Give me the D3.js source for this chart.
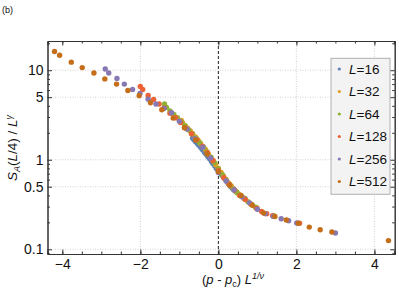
<!DOCTYPE html>
<html>
<head>
<meta charset="utf-8">
<script src="https://cdn.jsdelivr.net/npm/d3@7"></script>
<style>
  body { margin: 0; background: #fff; }
  svg { display: block; font-family: "Liberation Sans", Arial, sans-serif; }
</style>
</head>
<body>
<svg id="main-svg"></svg>
<script>
// DATA
const SERIES_NAMES = ["16", "32", "64", "128", "256", "512"]
const SERIES_COLORS = ["#5E81B5", "#E19C24", "#8FB032", "#EB6235", "#8778B3", "#C56E1A"]

const X_L16 = [-0.66, -0.63, -0.59, -0.54, -0.50, -0.45, -0.41, -0.36, -0.32, -0.27, -0.23, -0.18, -0.14, -0.09, -0.05, 0, 0.05, 0.09, 0.14, 0.18, 0.23, 0.27, 0.32, 0.36, 0.41, 0.45, 0.68]
const Y_L16 = [1.75, 1.68, 1.60, 1.52, 1.45, 1.37, 1.30, 1.22, 1.16, 1.09, 1.03, 0.96, 0.91, 0.85, 0.80, 0.75, 0.71, 0.67, 0.63, 0.60, 0.56, 0.53, 0.50, 0.48, 0.46, 0.44, 0.37]

const X_L32 = [-0.95, -0.92, -0.85, -0.79, -0.72, -0.66, -0.59, -0.52, -0.46, -0.39, -0.33, -0.26, -0.20, -0.13, -0.07, 0, 0.07, 0.13, 0.20, 0.26, 0.33, 0.39, 0.46, 0.53, 0.59, 0.66, 0.99]
const Y_L32 = [2.75, 2.60, 2.40, 2.25, 2.10, 1.95, 1.80, 1.65, 1.53, 1.40, 1.30, 1.17, 1.07, 0.97, 0.88, 0.80, 0.72, 0.66, 0.60, 0.55, 0.51, 0.47, 0.44, 0.41, 0.39, 0.37, 0.29]

const X_L64 = [-1.38, -1.33, -1.24, -1.14, -1.05, -0.95, -0.86, -0.76, -0.67, -0.57, -0.48, -0.38, -0.29, -0.19, -0.10, 0, 0.10, 0.19, 0.29, 0.38, 0.48, 0.57, 0.67, 0.76, 0.86, 0.95, 1.43]
const Y_L64 = [4.20, 3.85, 3.50, 3.20, 2.95, 2.65, 2.40, 2.15, 1.95, 1.74, 1.55, 1.38, 1.22, 1.07, 0.93, 0.79, 0.68, 0.60, 0.53, 0.47, 0.43, 0.40, 0.37, 0.34, 0.315, 0.295, 0.235]

const X_L128 = [-2.00, -1.94, -1.80, -1.66, -1.52, -1.39, -1.24, -1.10, -0.97, -0.83, -0.69, -0.55, -0.41, -0.28, -0.14, 0, 0.14, 0.28, 0.41, 0.55, 0.69, 0.83, 0.98, 1.11, 1.24, 1.39, 2.08]
const Y_L128 = [6.60, 6.10, 5.23, 4.72, 4.20, 3.80, 3.30, 2.95, 2.60, 2.25, 1.95, 1.68, 1.42, 1.20, 0.98, 0.76, 0.63, 0.53, 0.46, 0.40, 0.36, 0.32, 0.285, 0.265, 0.25, 0.237, 0.195]

const X_L256 = [-2.90, -2.81, -2.60, -2.41, -2.20, -2.01, -1.80, -1.60, -1.39, -1.20, -1.00, -0.80, -0.60, -0.40, -0.20, 0, 0.20, 0.40, 0.60, 0.80, 1.00, 1.20, 1.41, 1.61, 1.80, 2.01, 3.00]
const Y_L256 = [10.3, 9.3, 8.1, 7.0, 6.1, 5.5, 4.75, 4.2, 3.75, 3.35, 2.7, 2.2, 1.72, 1.38, 1.05, 0.72, 0.58, 0.46, 0.385, 0.33, 0.28, 0.25, 0.233, 0.219, 0.208, 0.197, 0.152]

const X_L512 = [-4.20, -4.07, -3.77, -3.49, -3.19, -2.91, -2.61, -2.32, -2.03, -1.74, -1.45, -1.16, -0.87, -0.58, -0.29, 0, 0.29, 0.58, 0.87, 1.16, 1.45, 1.74, 2.05, 2.33, 2.61, 2.91, 4.36]
const Y_L512 = [16.2, 14.7, 12.3, 10.7, 9.3, 8.0, 7.0, 5.94, 5.2, 4.33, 3.62, 2.92, 2.28, 1.66, 1.16, 0.74, 0.52, 0.40, 0.31, 0.255, 0.232, 0.212, 0.196, 0.177, 0.165, 0.156, 0.125]

const X_TICKS = [-4, -2, 0, 2, 4]
const X_MINOR_TICKS = [-4, -3.5, -3, -2.5, -2, -1.5, -1, -0.5, 0, 0.5, 1, 1.5, 2, 2.5, 3, 3.5, 4, 4.5]
const Y_TICKS = [0.1, 0.5, 1, 5, 10]
const Y_MINOR_TICKS = [0.09, 0.2, 0.3, 0.4, 0.6, 0.7, 0.8, 0.9, 2, 3, 4, 6, 7, 8, 9, 20]
const X_GRID = [-2, 2, 4]
const Y_GRID = [0.1, 0.5, 1, 5, 10]

// FIXED SPACING VARIABLES
const CANVAS_WIDTH = 399
const CANVAS_HEIGHT = 299
const FRAME_LEFT = 47.5
const FRAME_RIGHT = 394.7
const FRAME_TOP = 41
const FRAME_BOTTOM = 254
const X_DOMAIN = [-4.38, 4.52]
const Y_DOMAIN = [0.0886, 21.2]
const MAJOR_TICK = 4.5
const MINOR_TICK = 2.5
const DOT_RADIUS = 2.7
const TICK_FONT = 14
const LEGEND_X = 331
const LEGEND_Y = 58.3
const LEGEND_WIDTH = 59
const LEGEND_HEIGHT = 136
const LEGEND_FIRST_ROW = 69
const LEGEND_ROW_STEP = 22.5

// STYLE VARIABLES
const FRAME_COLOR = "#333"
const GRID_COLOR = "#c8c8c8"
const TEXT_COLOR = "#111"
const LEGEND_FILL = "#f3f3f3"
const LEGEND_STROKE = "#b0b0b0"

const seriesX = [X_L16, X_L32, X_L64, X_L128, X_L256, X_L512]
const seriesY = [Y_L16, Y_L32, Y_L64, Y_L128, Y_L256, Y_L512]
const seriesData = SERIES_NAMES.map((name, i) => ({
  name: name,
  color: SERIES_COLORS[i],
  points: seriesX[i].map((x, j) => ({ x: x, y: seriesY[i][j] }))
}))

const x = d3.scaleLinear().domain(X_DOMAIN).range([FRAME_LEFT, FRAME_RIGHT])
const y = d3.scaleLog().domain(Y_DOMAIN).range([FRAME_BOTTOM, FRAME_TOP])

const svg = d3.select("#main-svg")
  .attr("width", CANVAS_WIDTH)
  .attr("height", CANVAS_HEIGHT)

svg.append("rect")
  .attr("width", "100%")
  .attr("height", "100%")
  .attr("fill", "#fff")

// panel tag
svg.append("text")
  .attr("x", 2)
  .attr("y", 13)
  .attr("font-size", 9)
  .attr("fill", TEXT_COLOR)
  .text("(b)")

// grid lines
const grid = svg.append("g")
grid.selectAll(".vgrid")
  .data(X_GRID)
  .join("line")
  .attr("x1", d => x(d)).attr("x2", d => x(d))
  .attr("y1", FRAME_TOP).attr("y2", FRAME_BOTTOM)
  .attr("stroke", GRID_COLOR)
  .attr("stroke-width", 0.8)
  .attr("stroke-dasharray", "1,1.5")
grid.selectAll(".hgrid")
  .data(Y_GRID)
  .join("line")
  .attr("x1", FRAME_LEFT).attr("x2", FRAME_RIGHT)
  .attr("y1", d => y(d)).attr("y2", d => y(d))
  .attr("stroke", GRID_COLOR)
  .attr("stroke-width", 0.8)
  .attr("stroke-dasharray", "1,1.5")

// dashed line at p = pc
svg.append("line")
  .attr("x1", x(0)).attr("x2", x(0))
  .attr("y1", FRAME_TOP).attr("y2", FRAME_BOTTOM)
  .attr("stroke", "#222")
  .attr("stroke-width", 1)
  .attr("stroke-dasharray", "3,2")

// points, later series drawn on top
const plot = svg.append("g")
seriesData.forEach(s => {
  plot.append("g")
    .selectAll("circle")
    .data(s.points)
    .join("circle")
    .attr("cx", d => x(d.x))
    .attr("cy", d => y(d.y))
    .attr("r", DOT_RADIUS)
    .attr("fill", s.color)
})

// frame axes with inward ticks on all sides
function styleAxis(g) {
  g.select(".domain").attr("stroke", FRAME_COLOR)
  g.selectAll(".tick line").attr("stroke", FRAME_COLOR)
  g.selectAll(".tick text").attr("fill", TEXT_COLOR).attr("font-size", TICK_FONT)
}
const fmtY = d => d3.format("~g")(d)
const fmtX = d => d3.format("~g")(d).replace("-", "\u2212")

svg.append("g")
  .attr("transform", `translate(0,${FRAME_BOTTOM})`)
  .call(d3.axisBottom(x).tickValues(X_MINOR_TICKS).tickSize(-MINOR_TICK).tickFormat(""))
  .call(styleAxis)
svg.append("g")
  .attr("transform", `translate(0,${FRAME_BOTTOM})`)
  .call(d3.axisBottom(x).tickValues(X_TICKS).tickSize(-MAJOR_TICK).tickPadding(5).tickFormat(fmtX))
  .call(styleAxis)
svg.append("g")
  .attr("transform", `translate(0,${FRAME_TOP})`)
  .call(d3.axisTop(x).tickValues(X_MINOR_TICKS).tickSize(-MINOR_TICK).tickFormat(""))
  .call(styleAxis)
svg.append("g")
  .attr("transform", `translate(0,${FRAME_TOP})`)
  .call(d3.axisTop(x).tickValues(X_TICKS).tickSize(-MAJOR_TICK).tickFormat(""))
  .call(styleAxis)

svg.append("g")
  .attr("transform", `translate(${FRAME_LEFT},0)`)
  .call(d3.axisLeft(y).tickValues(Y_MINOR_TICKS).tickSize(-MINOR_TICK).tickFormat(""))
  .call(styleAxis)
svg.append("g")
  .attr("transform", `translate(${FRAME_LEFT},0)`)
  .call(d3.axisLeft(y).tickValues(Y_TICKS).tickSize(-MAJOR_TICK).tickPadding(4).tickFormat(fmtY))
  .call(styleAxis)
svg.append("g")
  .attr("transform", `translate(${FRAME_RIGHT},0)`)
  .call(d3.axisRight(y).tickValues(Y_MINOR_TICKS).tickSize(-MINOR_TICK).tickFormat(""))
  .call(styleAxis)
svg.append("g")
  .attr("transform", `translate(${FRAME_RIGHT},0)`)
  .call(d3.axisRight(y).tickValues(Y_TICKS).tickSize(-MAJOR_TICK).tickFormat(""))
  .call(styleAxis)

// axis labels
const xLabel = svg.append("text")
  .attr("x", 233)
  .attr("y", 284)
  .attr("text-anchor", "middle")
  .attr("font-size", 13)
  .attr("fill", TEXT_COLOR)
xLabel.append("tspan").text("(")
xLabel.append("tspan").attr("font-style", "italic").text("p")
xLabel.append("tspan").text(" - ")
xLabel.append("tspan").attr("font-style", "italic").text("p")
xLabel.append("tspan").attr("font-size", 9).attr("dy", 3).text("c")
xLabel.append("tspan").attr("dy", -3).text(") ")
xLabel.append("tspan").attr("font-style", "italic").text("L")
xLabel.append("tspan").attr("font-size", 9).attr("font-style", "italic").attr("dy", -5).text("1/\u03bd")

const yLabel = svg.append("text")
  .attr("transform", "translate(17,148) rotate(-90)")
  .attr("text-anchor", "middle")
  .attr("font-size", 13.5)
  .attr("fill", TEXT_COLOR)
yLabel.append("tspan").attr("font-style", "italic").text("S")
yLabel.append("tspan").attr("font-size", 9).attr("font-style", "italic").attr("dy", 3).text("A")
yLabel.append("tspan").attr("dy", -3).text("(")
yLabel.append("tspan").attr("font-style", "italic").text("L")
yLabel.append("tspan").text("/4) / ")
yLabel.append("tspan").attr("font-style", "italic").text("L")
yLabel.append("tspan").attr("font-size", 9).attr("font-style", "italic").attr("dy", -5).text("\u03b3")

// legend
const legend = svg.append("g")
legend.append("rect")
  .attr("x", LEGEND_X)
  .attr("y", LEGEND_Y)
  .attr("width", LEGEND_WIDTH)
  .attr("height", LEGEND_HEIGHT)
  .attr("fill", LEGEND_FILL)
  .attr("stroke", LEGEND_STROKE)
  .attr("stroke-width", 1)

const rows = legend.selectAll(".row")
  .data(seriesData)
  .join("g")
  .attr("transform", (_, i) => `translate(${LEGEND_X}, ${LEGEND_FIRST_ROW + i * LEGEND_ROW_STEP})`)
rows.append("circle")
  .attr("cx", 8.3)
  .attr("cy", 0)
  .attr("r", 1.6)
  .attr("fill", d => d.color)
const rowText = rows.append("text")
  .attr("x", 18)
  .attr("y", 4.8)
  .attr("font-size", 13.5)
  .attr("fill", TEXT_COLOR)
rowText.append("tspan").attr("font-style", "italic").text("L")
rowText.append("tspan").text(d => "=" + d.name)
</script>
</body>
</html>
